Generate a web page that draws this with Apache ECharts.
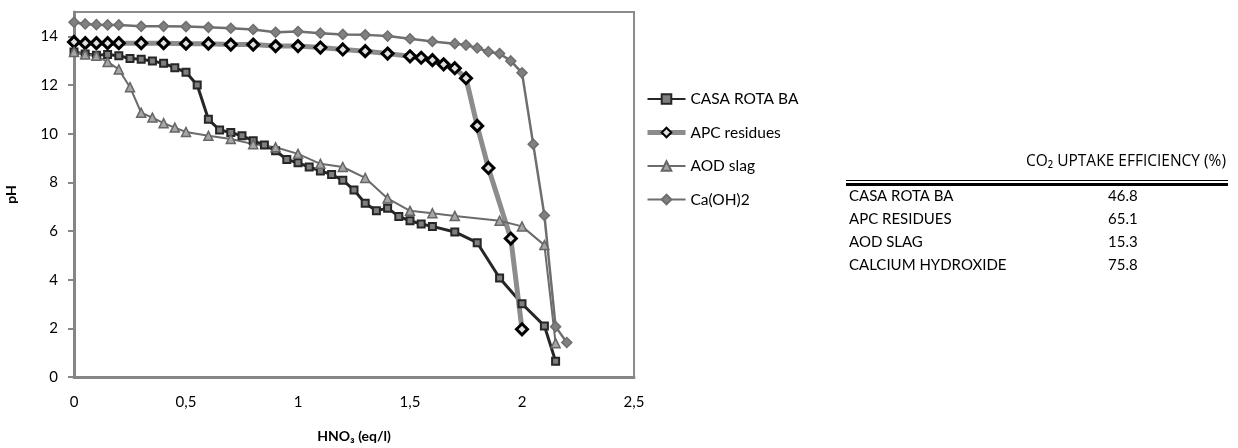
<!DOCTYPE html>
<html>
<head>
<meta charset="utf-8">
<script src="https://cdn.jsdelivr.net/npm/echarts@6/dist/echarts.min.js"></script>
<style>
  html, body { margin: 0; padding: 0; background: #fff; }
  #chart { width: 1238px; height: 448px; }
</style>
</head>
<body>
<div id="chart"></div>
<script>
// titration curves: HNO3 added (eq/l) vs pH
const casaX = [0, 0.05, 0.1, 0.15, 0.2, 0.25, 0.3, 0.35, 0.4, 0.45, 0.5, 0.55, 0.6, 0.65, 0.7, 0.75, 0.8, 0.85, 0.9, 0.95, 1.0, 1.05, 1.1, 1.15, 1.2, 1.25, 1.3, 1.35, 1.4, 1.45, 1.5, 1.55, 1.6, 1.7, 1.8, 1.9, 2.0, 2.1, 2.15];
const casaY = [13.36, 13.27, 13.22, 13.25, 13.2, 13.09, 13.06, 12.99, 12.89, 12.71, 12.52, 12.0, 10.59, 10.15, 10.05, 9.91, 9.71, 9.53, 9.3, 8.94, 8.8, 8.63, 8.47, 8.32, 8.09, 7.68, 7.14, 6.83, 6.94, 6.6, 6.42, 6.29, 6.19, 5.96, 5.52, 4.07, 3.01, 2.1, 0.65];

const apcX = [0, 0.05, 0.1, 0.15, 0.2, 0.3, 0.4, 0.5, 0.6, 0.7, 0.8, 0.9, 1.0, 1.1, 1.2, 1.3, 1.4, 1.5, 1.55, 1.6, 1.65, 1.7, 1.75, 1.8, 1.85, 1.95, 2.0];
const apcY = [13.77, 13.72, 13.72, 13.72, 13.72, 13.72, 13.72, 13.7, 13.7, 13.66, 13.66, 13.6, 13.6, 13.54, 13.46, 13.39, 13.29, 13.18, 13.12, 13.02, 12.85, 12.69, 12.28, 10.32, 8.59, 5.69, 1.96];

const aodX = [0, 0.05, 0.1, 0.15, 0.2, 0.25, 0.3, 0.35, 0.4, 0.45, 0.5, 0.6, 0.7, 0.8, 0.9, 1.0, 1.1, 1.2, 1.3, 1.4, 1.5, 1.6, 1.7, 1.9, 2.0, 2.1, 2.15];
const aodY = [13.36, 13.25, 13.2, 12.95, 12.64, 11.91, 10.86, 10.66, 10.43, 10.25, 10.07, 9.91, 9.78, 9.57, 9.44, 9.17, 8.76, 8.63, 8.18, 7.34, 6.83, 6.73, 6.62, 6.42, 6.19, 5.42, 1.39];

const caohX = [0, 0.05, 0.1, 0.15, 0.2, 0.3, 0.4, 0.5, 0.6, 0.7, 0.8, 0.9, 1.0, 1.1, 1.2, 1.3, 1.4, 1.5, 1.6, 1.7, 1.75, 1.8, 1.85, 1.9, 1.95, 2.0, 2.05, 2.1, 2.15, 2.2];
const caohY = [14.58, 14.51, 14.48, 14.47, 14.47, 14.41, 14.41, 14.4, 14.37, 14.33, 14.28, 14.17, 14.2, 14.13, 14.08, 14.06, 14.01, 13.9, 13.79, 13.7, 13.64, 13.52, 13.37, 13.29, 12.99, 12.5, 9.57, 6.64, 2.07, 1.42];

const seriesNames = ['CASA ROTA BA', 'APC residues', 'AOD slag', 'Ca(OH)2'];

// side table
const tableHeader = 'CO₂ UPTAKE EFFICIENCY (%)';
const tableLabels = ['CASA ROTA BA', 'APC RESIDUES', 'AOD SLAG', 'CALCIUM HYDROXIDE'];
const tableValues = ['46.8', '65.1', '15.3', '75.8'];

const FONT = 'Lato, "Open Sans", sans-serif';
const zip = (xs, ys) => xs.map((x, i) => [x, ys[i]]);

const tableGraphics = [
  { type: 'text', right: 12, top: 154, style: { text: tableHeader, font: '15.5px "Open Sans", sans-serif', fill: '#000' } },
  { type: 'rect', shape: { x: 846, y: 180, width: 382, height: 1 }, style: { fill: '#000' } },
  { type: 'rect', shape: { x: 846, y: 183, width: 382, height: 3 }, style: { fill: '#000' } },
];
tableLabels.forEach((label, i) => {
  const y = 189 + i * 23;
  tableGraphics.push({ type: 'text', left: 849, top: y, style: { text: label, font: '15px ' + FONT, fill: '#000' } });
  tableGraphics.push({ type: 'text', left: 1108, top: y, style: { text: tableValues[i], font: '15px ' + FONT, fill: '#000' } });
});

const chart = echarts.init(document.getElementById('chart'));
chart.setOption({
  animation: false,
  textStyle: { fontFamily: FONT },
  grid: {
    left: 74, right: 604, top: 12, bottom: 67,
    show: true, borderColor: '#8c8c8c', borderWidth: 2,
  },
  legend: {
    orient: 'vertical',
    left: 640,
    top: 86,
    itemWidth: 38,
    itemHeight: 12,
    itemGap: 17.5,
    textStyle: { fontSize: 15.5, color: '#000', fontFamily: FONT },
    data: [
      { name: seriesNames[0] },
      { name: seriesNames[1], lineStyle: { width: 5 } },
      { name: seriesNames[2] },
      { name: seriesNames[3] },
    ],
  },
  xAxis: {
    type: 'value',
    min: 0, max: 2.5, interval: 0.5,
    name: 'HNO₃ (eq/l)',
    nameLocation: 'middle',
    nameGap: 52,
    nameTextStyle: { fontWeight: 'bold', fontSize: 14, color: '#000' },
    axisLine: { lineStyle: { color: '#868686', width: 3 } },
    axisTick: { show: false },
    splitLine: { show: false },
    axisLabel: {
      fontSize: 15, color: '#000', margin: 18,
      formatter: (v) => String(v).replace('.', ','),
    },
  },
  yAxis: {
    type: 'value',
    min: 0, max: 15, interval: 2,
    name: 'pH',
    nameLocation: 'middle',
    nameGap: 56,
    nameTextStyle: { fontWeight: 'bold', fontSize: 14, color: '#000' },
    axisLine: { show: true, lineStyle: { color: '#868686', width: 3 } },
    axisTick: { show: true, length: 6, lineStyle: { color: '#868686', width: 2 } },
    splitLine: { show: false },
    axisLabel: { fontSize: 15, color: '#000', margin: 16, showMaxLabel: false },
  },
  series: [
    {
      name: seriesNames[0], type: 'line', data: zip(casaX, casaY),
      symbol: 'rect', symbolSize: 7,
      lineStyle: { color: '#262626', width: 3 },
      itemStyle: { color: '#7f7f7f', borderColor: '#262626', borderWidth: 2 },
    },
    {
      name: seriesNames[1], type: 'line', data: zip(apcX, apcY),
      symbol: 'diamond', symbolSize: 11,
      lineStyle: { color: '#8c8c8c', width: 5 },
      itemStyle: { color: '#e0e0e0', borderColor: '#000', borderWidth: 3 },
    },
    {
      name: seriesNames[2], type: 'line', data: zip(aodX, aodY),
      symbol: 'triangle', symbolSize: 9,
      lineStyle: { color: '#6b6b6b', width: 2 },
      itemStyle: { color: '#a6a6a6', borderColor: '#666', borderWidth: 1.5 },
    },
    {
      name: seriesNames[3], type: 'line', data: zip(caohX, caohY),
      symbol: 'diamond', symbolSize: 10,
      lineStyle: { color: '#6e6e6e', width: 2.5 },
      itemStyle: { color: '#808080', borderColor: '#6e6e6e', borderWidth: 1.5 },
    },
  ],
  graphic: tableGraphics,
});
</script>
</body>
</html>
